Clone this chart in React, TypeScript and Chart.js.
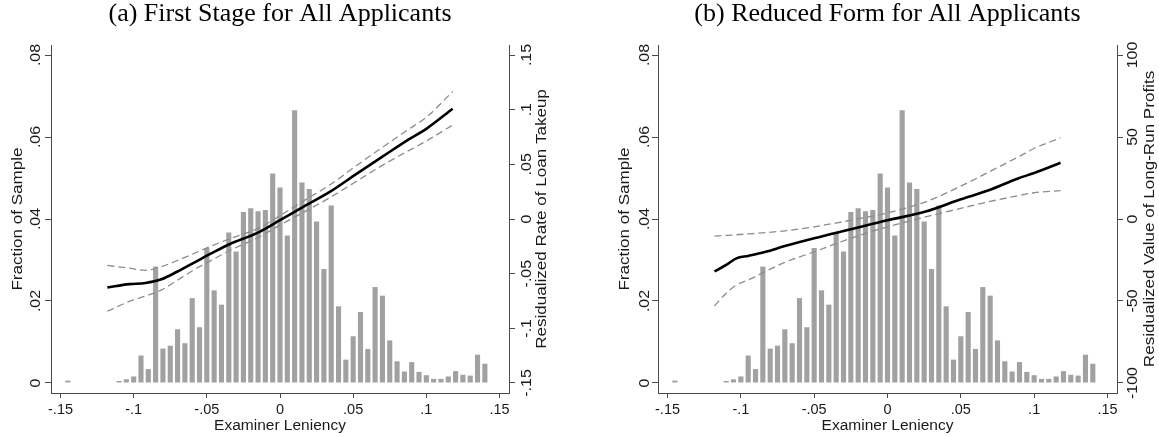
import React, { useEffect, useRef } from "react";
import { Chart, registerables } from "chart.js";

Chart.register(...registerables);

// ---------- data ----------
const binCenters = [
  -0.145, -0.11, -0.105, -0.1, -0.095, -0.09, -0.085, -0.08, -0.075, -0.07,
  -0.065, -0.06, -0.055, -0.05, -0.045, -0.04, -0.035, -0.03, -0.025, -0.02,
  -0.015, -0.01, -0.005, 0, 0.005, 0.01, 0.015, 0.02, 0.025, 0.03,
  0.035, 0.04, 0.045, 0.05, 0.055, 0.06, 0.065, 0.07, 0.075, 0.08,
  0.085, 0.09, 0.095, 0.1, 0.105, 0.11, 0.115, 0.12, 0.125, 0.13,
  0.135, 0.14,
];
const fractionOfSample = [
  0.0006, 0.0005, 0.0009, 0.0016, 0.0067, 0.0034, 0.0284, 0.0084, 0.0091, 0.0131,
  0.0097, 0.0207, 0.0136, 0.0329, 0.0226, 0.0191, 0.0367, 0.0321, 0.0417, 0.0426,
  0.0419, 0.0422, 0.0511, 0.0477, 0.036, 0.0665, 0.0489, 0.0473, 0.0394, 0.0278,
  0.0433, 0.0187, 0.0057, 0.0114, 0.0173, 0.0083, 0.0234, 0.0213, 0.0104, 0.0053,
  0.0028, 0.0051, 0.0027, 0.0019, 0.001, 0.001, 0.0016, 0.0029, 0.002, 0.0018,
  0.0069, 0.0047,
];

// panel (a): first stage
const firstStageX = [
  -0.118, -0.103, -0.092, -0.081, -0.07, -0.058, -0.047, -0.035, -0.015, 0,
  0.017, 0.034, 0.051, 0.07, 0.088, 0.1, 0.118,
];
const firstStageFit = [
  -0.0626, -0.0596, -0.0585, -0.0551, -0.048, -0.0394, -0.0315, -0.0233, -0.0124, -0.0011,
  0.012, 0.0248, 0.0401, 0.057, 0.0728, 0.0825, 0.1009,
];
const firstStageUpper = [
  -0.0424, -0.045, -0.0469, -0.0435, -0.0379, -0.0311, -0.0248, -0.0184, -0.0086, 0.003,
  0.0173, 0.0311, 0.0476, 0.0656, 0.0821, 0.093, 0.1166,
];
const firstStageLower = [
  -0.0844, -0.0754, -0.0705, -0.0649, -0.0559, -0.0458, -0.0379, -0.0293, -0.0169, -0.0056,
  0.0068, 0.0195, 0.0334, 0.0491, 0.0626, 0.0713, 0.0859,
];

// panel (b): reduced form
const reducedFormX = [
  -0.118, -0.11, -0.103, -0.095, -0.083, -0.07, -0.05, -0.025, 0, 0.026,
  0.05, 0.069, 0.089, 0.1, 0.118,
];
const reducedFormFit = [
  -32, -28, -24, -22.5, -20, -16.5, -11.75, -6.25, -0.75, 4.5,
  12, 17.5, 24.75, 28, 34.25,
];
const reducedFormUpper = [
  -10.5, -10, -9.6, -9.1, -8.3, -7.2, -4.75, -0.75, 3.75, 10.5,
  20, 28.6, 37.8, 43, 49.5,
];
const reducedFormLower = [
  -53, -45.25, -40.25, -37.2, -31.9, -26.4, -20, -11.75, -4.75, 1.25,
  6.5, 10.5, 14.2, 16, 17.25,
];

// ticks
const xTickValues = [-0.15, -0.1, -0.05, 0, 0.05, 0.1, 0.15];
const xTickLabels = ["-.15", "-.1", "-.05", "0", ".05", ".1", ".15"];
const fractionTickValues = [0, 0.02, 0.04, 0.06, 0.08];
const fractionTickLabels = ["0", ".02", ".04", ".06", ".08"];
const takeupTickValues = [-0.15, -0.1, -0.05, 0, 0.05, 0.1, 0.15];
const takeupTickLabels = ["-.15", "-.1", "-.05", "0", ".05", ".1", ".15"];
const profitTickValues = [-100, -50, 0, 50, 100];
const profitTickLabels = ["-100", "-50", "0", "50", "100"];

// ---------- styles ----------
const SANS = "'Liberation Sans', Arial, Helvetica, sans-serif";
const SERIF = "'Liberation Serif', 'Times New Roman', serif";
const TEXT = "#1a1a1a";
const AXIS = "#4a4a4a";
const BAR = "#a1a1a1";
const DASH = "#8c8c8c";
const H = 437;
const STRETCH = 1.1;

function drawRot(ctx: CanvasRenderingContext2D, text: string, x: number, y: number) {
  ctx.save();
  ctx.translate(x, y);
  ctx.rotate(-Math.PI / 2);
  ctx.scale(STRETCH, 1);
  ctx.fillText(text, 0, 0);
  ctx.restore();
}

const rotatedYAxisText = {
  id: "rotatedYAxisText",
  afterDraw(chart: any, _args: any, opts: any) {
    const ctx: CanvasRenderingContext2D = chart.ctx;
    const area = chart.chartArea;
    for (const ax of opts.axes || []) {
      const scale = chart.scales[ax.id];
      const axisX = ax.side === "left" ? scale.right : scale.left;
      const dir = ax.side === "left" ? -1 : 1;
      ctx.save();
      ctx.fillStyle = TEXT;
      ctx.textAlign = "center";
      ctx.textBaseline = "middle";
      ctx.font = `14.5px ${SANS}`;
      ax.values.forEach((v: number, i: number) => {
        drawRot(ctx, ax.labels[i], axisX + dir * ax.labelOffset, scale.getPixelForValue(v));
      });
      ctx.font = `15.5px ${SANS}`;
      drawRot(ctx, ax.title, axisX + dir * ax.titleOffset, (area.top + area.bottom) / 2);
      ctx.restore();
    }
  },
};

function makeConfig(p: {
  title: string;
  lineX: number[];
  fit: number[];
  upper: number[];
  lower: number[];
  rMin: number;
  rMax: number;
  rTicks: number[];
  rLabels: string[];
  rTitle: string;
  leftWidth: number;
  rightWidth: number;
  leftLabelOffset: number;
  rightLabelOffset: number;
}): any {
  const pts = (ys: number[]) => p.lineX.map((x, i) => ({ x, y: ys[i] }));
  const tickSetter = (vals: number[]) => (s: any) => {
    s.ticks = vals.map((value) => ({ value }));
  };
  const yGrid = { display: true, drawOnChartArea: false, drawTicks: true, tickLength: 6, color: AXIS, lineWidth: 1 };
  return {
    type: "bar",
    data: {
      datasets: [
        {
          type: "line",
          data: pts(p.fit),
          yAxisID: "y2",
          borderColor: "#000",
          borderWidth: 2.6,
          pointRadius: 0,
          cubicInterpolationMode: "monotone",
          order: 1,
        },
        {
          type: "line",
          data: pts(p.upper),
          yAxisID: "y2",
          borderColor: DASH,
          borderWidth: 1.3,
          borderDash: [7, 4],
          pointRadius: 0,
          cubicInterpolationMode: "monotone",
          order: 2,
        },
        {
          type: "line",
          data: pts(p.lower),
          yAxisID: "y2",
          borderColor: DASH,
          borderWidth: 1.3,
          borderDash: [7, 4],
          pointRadius: 0,
          cubicInterpolationMode: "monotone",
          order: 2,
        },
        {
          type: "bar",
          data: binCenters.map((x, i) => ({ x, y: fractionOfSample[i] })),
          yAxisID: "y",
          backgroundColor: BAR,
          borderWidth: 0,
          barPercentage: 0.7,
          categoryPercentage: 1,
          order: 3,
        },
      ],
    },
    options: {
      responsive: false,
      animation: false,
      devicePixelRatio: 1,
      events: [],
      layout: { padding: 0 },
      plugins: {
        legend: { display: false },
        tooltip: { enabled: false },
        title: {
          display: true,
          text: p.title,
          fullSize: false,
          color: "#000",
          font: { family: SERIF, size: 26, weight: "normal", lineHeight: 1 },
          padding: { top: 1, bottom: 18 },
        },
        rotatedYAxisText: {
          axes: [
            { id: "y", side: "left", values: fractionTickValues, labels: fractionTickLabels, title: "Fraction of Sample", labelOffset: p.leftLabelOffset, titleOffset: 33 },
            { id: "y2", side: "right", values: p.rTicks, labels: p.rLabels, title: p.rTitle, labelOffset: p.rightLabelOffset, titleOffset: 33 },
          ],
        },
      },
      scales: {
        x: {
          type: "linear",
          min: -0.1565,
          max: 0.1565,
          offset: false,
          afterBuildTicks: tickSetter(xTickValues),
          afterFit: (s: any) => {
            s.height = 44;
          },
          grid: { display: true, offset: false, drawOnChartArea: false, drawTicks: true, tickLength: 5, color: AXIS },
          border: { display: true, color: AXIS, width: 1 },
          ticks: {
            autoSkip: false,
            maxRotation: 0,
            padding: 3,
            color: TEXT,
            font: { family: SANS, size: 14.5 },
            callback: (_v: any, i: number) => xTickLabels[i],
          },
          title: {
            display: true,
            text: "Examiner Leniency",
            color: TEXT,
            font: { family: SANS, size: 15.5 },
            padding: { top: 0, bottom: 2 },
          },
        },
        y: {
          type: "linear",
          position: "left",
          min: -0.00244,
          max: 0.08244,
          afterBuildTicks: tickSetter(fractionTickValues),
          afterFit: (s: any) => {
            s.width = p.leftWidth;
          },
          grid: yGrid,
          border: { display: true, color: AXIS, width: 1 },
          ticks: { display: false },
        },
        y2: {
          type: "linear",
          position: "right",
          min: p.rMin,
          max: p.rMax,
          afterBuildTicks: tickSetter(p.rTicks),
          afterFit: (s: any) => {
            s.width = p.rightWidth;
          },
          grid: yGrid,
          border: { display: true, color: AXIS, width: 1 },
          ticks: { display: false },
        },
      },
    },
    plugins: [rotatedYAxisText],
  };
}

function Panel({ width, config }: { width: number; config: any }) {
  const ref = useRef<HTMLCanvasElement | null>(null);
  useEffect(() => {
    if (!ref.current) return;
    const chart = new Chart(ref.current, config);
    return () => chart.destroy();
  }, []);
  return <canvas ref={ref} width={width} height={H} style={{ display: "block", width, height: H }} />;
}

export default function App() {
  const configA = makeConfig({
    title: "(a) First Stage for All Applicants",
    lineX: firstStageX,
    fit: firstStageFit,
    upper: firstStageUpper,
    lower: firstStageLower,
    rMin: -0.15915,
    rMax: 0.15915,
    rTicks: takeupTickValues,
    rLabels: takeupTickLabels,
    rTitle: "Residualized Rate of Loan Takeup",
    leftWidth: 51,
    rightWidth: 71,
    leftLabelOffset: 15,
    rightLabelOffset: 18,
  });
  const configB = makeConfig({
    title: "(b) Reduced Form for All Applicants",
    lineX: reducedFormX,
    fit: reducedFormFit,
    upper: reducedFormUpper,
    lower: reducedFormLower,
    rMin: -106.1,
    rMax: 106.1,
    rTicks: profitTickValues,
    rLabels: profitTickLabels,
    rTitle: "Residualized Value of Long-Run Profits",
    leftWidth: 78,
    rightWidth: 42,
    leftLabelOffset: 13,
    rightLabelOffset: 16,
  });
  return (
    <div style={{ position: "absolute", left: 0, top: 0, width: 1159, height: H, display: "flex", background: "#fff" }}>
      <Panel width={580} config={configA} />
      <Panel width={579} config={configB} />
    </div>
  );
}
